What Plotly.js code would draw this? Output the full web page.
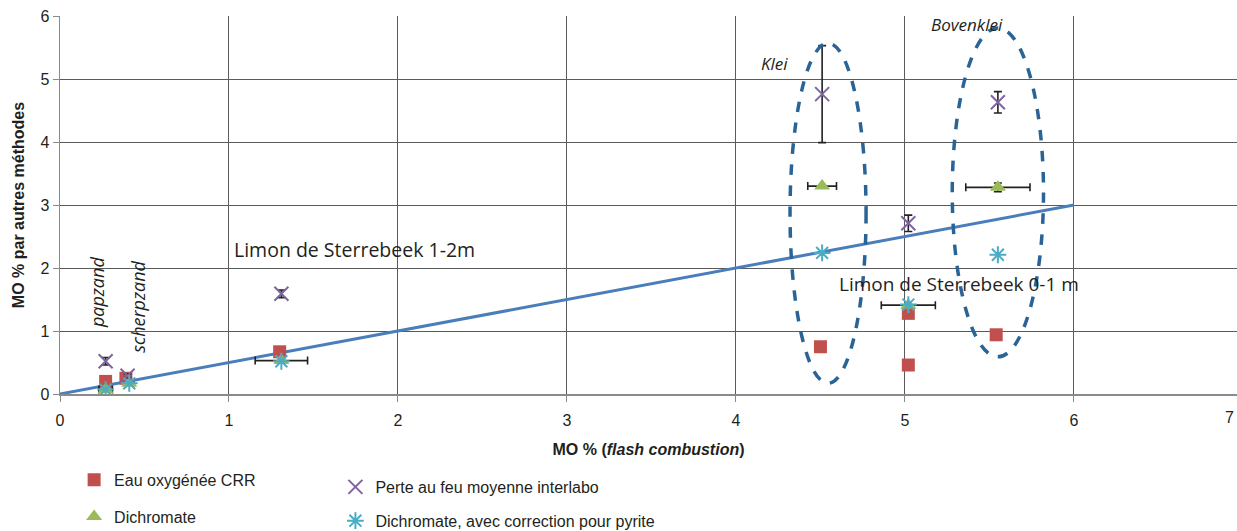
<!DOCTYPE html>
<html>
<head>
<meta charset="utf-8">
<script src="https://cdn.plot.ly/plotly-3.0.1.min.js"></script>
<style>html,body{margin:0;padding:0;background:#fff;}#chart{width:1237px;height:531px;}</style>
</head>
<body>
<div id="chart"></div>
<script>
// Samples: papzand, scherpzand, Limon 1-2m, Klei, Limon 0-1m, Bovenklei
const eauX = [0.27, 0.39, 1.30, 4.50, 5.02, 5.02, 5.54];
const eauY = [0.20, 0.25, 0.67, 0.75, 1.28, 0.46, 0.94];

const dichroX = [0.27, 0.41, 1.31, 4.51, 5.02, 5.55];
const dichroY = [0.07, 0.17, 0.53, 3.30, 1.41, 3.28];
const dichroXErr = [0.04, 0.02, 0.155, 0.085, 0.16, 0.19];
const dichroYErr = [0, 0, 0, 0, 0, 0.07];

const perteX = [0.27, 0.40, 1.31, 4.51, 5.02, 5.55];
const perteY = [0.52, 0.29, 1.59, 4.76, 2.71, 4.63];
const perteYErr = [0.06, 0.03, 0.06, 0.77, 0.13, 0.17];

const pyriteX = [0.27, 0.41, 1.31, 4.51, 5.02, 5.55];
const pyriteY = [0.07, 0.17, 0.52, 2.24, 1.42, 2.21];

const lineX = [0, 6];
const lineY = [0, 3];

const tickVals = [0, 1, 2, 3, 4, 5, 6, 7];
const yTickVals = [0, 1, 2, 3, 4, 5, 6];

const traces = [
  {x: lineX, y: lineY, mode: 'lines', line: {color: '#4a7ebb', width: 3}, showlegend: false, hoverinfo: 'skip'},
  {x: eauX, y: eauY, mode: 'markers', name: 'Eau oxygénée CRR', legend: 'legend', legendgroup: 'a',
   marker: {symbol: 'square', size: 13, color: '#c0504d'}},
  {x: dichroX, y: dichroY, mode: 'markers', name: 'Dichromate', legend: 'legend', legendgroup: 'b',
   marker: {symbol: 'triangle-up', size: 14, color: '#9bbb59'},
   error_x: {type: 'data', array: dichroXErr, color: '#222', thickness: 1.6, width: 4},
   error_y: {type: 'data', array: dichroYErr, color: '#222', thickness: 1.6, width: 4}},
  {x: perteX, y: perteY, mode: 'markers', name: 'Perte au feu moyenne interlabo', legend: 'legend2', legendgroup: 'c',
   marker: {symbol: 'x-thin-open', size: 14, color: '#8064a2', line: {width: 2, color: '#8064a2'}},
   error_y: {type: 'data', array: perteYErr, color: '#222', thickness: 1.6, width: 4}},
  {x: pyriteX, y: pyriteY, mode: 'markers', name: 'Dichromate, avec correction pour pyrite', legend: 'legend2', legendgroup: 'd',
   marker: {symbol: 'asterisk-open', size: 14, color: '#4bacc6', line: {width: 2, color: '#4bacc6'}}}
];

const ellColor = '#2a6496';
const annFont = 'Open Sans, Noto Sans, sans-serif';
const layout = {
  width: 1237, height: 531,
  margin: {l: 60, r: 0, t: 16, b: 137, autoexpand: false},
  paper_bgcolor: '#fff', plot_bgcolor: '#fff',
  font: {family: 'Liberation Sans, Arial, sans-serif', size: 16, color: '#231f20'},
  xaxis: {
    range: [0, 6.965], tickvals: tickVals, showgrid: true, gridcolor: '#5a5a5a', gridwidth: 1,
    zeroline: false, showline: true, linecolor: '#8a8a8a', linewidth: 1.5,
    ticks: 'outside', ticklen: 6, tickcolor: '#8a8a8a', ticklabelstandoff: 5,
    tickfont: {size: 16, color: '#231f20'},
    title: {text: '<b>MO % (<i>flash combustion</i>)</b>', font: {size: 16, color: '#231f20'}, standoff: 16}
  },
  yaxis: {
    range: [0, 6], tickvals: yTickVals, showgrid: true, gridcolor: '#5a5a5a', gridwidth: 1,
    zeroline: false, showline: true, linecolor: '#8a8a8a', linewidth: 1.5,
    ticks: 'outside', ticklen: 6, tickcolor: '#8a8a8a',
    tickfont: {size: 16, color: '#231f20'},
    title: {text: '<b>MO % par autres méthodes</b>', font: {size: 16, color: '#231f20'}, standoff: 12}
  },
  legend: {x: 0.012, y: -0.182, xanchor: 'left', yanchor: 'top', orientation: 'v',
    traceorder: 'grouped', tracegroupgap: 13, bgcolor: 'rgba(0,0,0,0)',
    font: {size: 16, color: '#231f20'}},
  legend2: {x: 0.234, y: -0.201, xanchor: 'left', yanchor: 'top', orientation: 'v',
    traceorder: 'grouped', tracegroupgap: 10, bgcolor: 'rgba(0,0,0,0)',
    font: {size: 16, color: '#231f20'}},
  shapes: [
    {type: 'circle', xref: 'x', yref: 'y', x0: 4.32, x1: 4.77, y0: 0.17, y1: 5.57,
     line: {color: ellColor, width: 3.5, dash: 'dash'}},
    {type: 'circle', xref: 'x', yref: 'y', x0: 5.28, x1: 5.82, y0: 0.59, y1: 5.81,
     line: {color: ellColor, width: 3.5, dash: 'dash'}}
  ],
  annotations: [
    {x: 0.22, y: 1.62, xref: 'x', yref: 'y', text: '<i>papzand</i>', textangle: -90, showarrow: false,
     font: {family: annFont, size: 18, color: '#231f20'}},
    {x: 0.46, y: 1.38, xref: 'x', yref: 'y', text: '<i>scherpzand</i>', textangle: -90, showarrow: false,
     font: {family: annFont, size: 18, color: '#231f20'}},
    {x: 1.02, y: 2.30, xref: 'x', yref: 'y', xanchor: 'left', text: 'Limon de Sterrebeek 1-2m', showarrow: false,
     font: {family: annFont, size: 19.5, color: '#231f20'}},
    {x: 4.60, y: 1.75, xref: 'x', yref: 'y', xanchor: 'left', text: 'Limon de Sterrebeek 0-1 m', showarrow: false,
     font: {family: annFont, size: 19, color: '#231f20'}},
    {x: 4.23, y: 5.24, xref: 'x', yref: 'y', text: '<i>Klei</i>', showarrow: false,
     font: {family: annFont, size: 17, color: '#231f20'}},
    {x: 5.37, y: 5.86, xref: 'x', yref: 'y', text: '<i>Bovenklei</i>', showarrow: false,
     font: {family: annFont, size: 17, color: '#231f20'}},
    {x: 1.0, y: -0.061, xref: 'paper', yref: 'paper', xanchor: 'right', yanchor: 'middle', xshift: -1, text: '7', showarrow: false,
     font: {size: 16, color: '#231f20'}}
  ],
  showlegend: true
};

Plotly.newPlot('chart', traces, layout, {displayModeBar: false, staticPlot: true});
</script>
</body>
</html>
